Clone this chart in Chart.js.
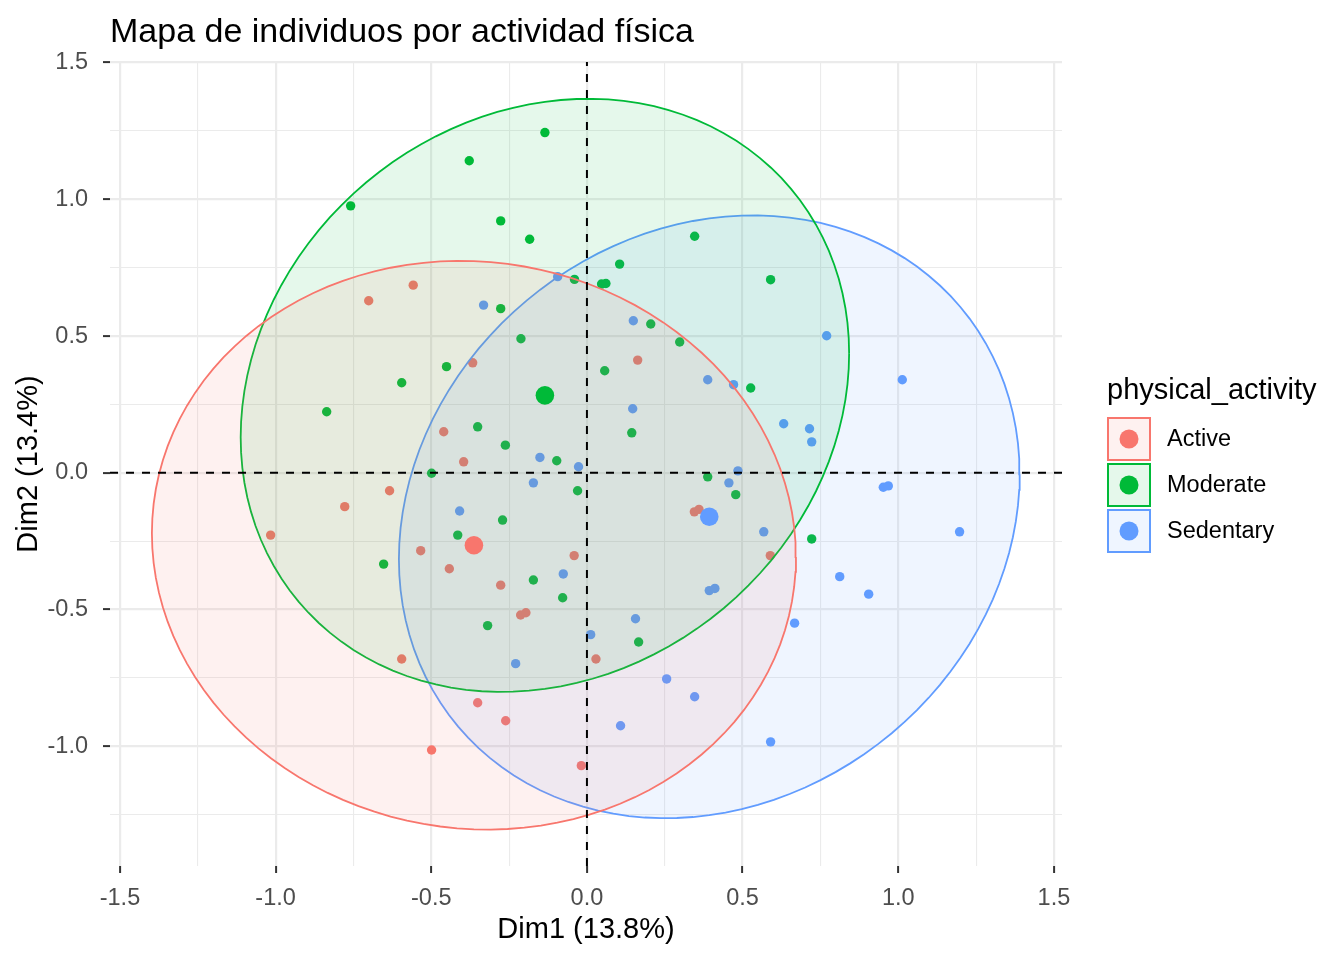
<!DOCTYPE html>
<html>
<head>
<meta charset="utf-8">
<title>Mapa de individuos por actividad física</title>
<script src="https://cdn.jsdelivr.net/npm/chart.js@4.4.1/dist/chart.umd.min.js"></script>
<style>
  html, body { margin: 0; padding: 0; background: #ffffff; }
  #wrap { width: 1344px; height: 960px; }
</style>
</head>
<body>
<div id="wrap"><canvas id="canvas" width="1344" height="960"></canvas></div>
<script>
// groups and colours
const groups = ['Active', 'Moderate', 'Sedentary'];
const groupColors = ['#F8766D', '#00BA38', '#619CFF'];

// individuals (Dim1, Dim2)
const activeX = [-0.558, -0.701, -0.367, -0.460, -0.396, 0.163, -0.634, -0.778, -1.016, -0.534, -0.442, -0.277,
  -0.041, -0.213, -0.196, -0.595, 0.029, -0.351, -0.261, -0.499, -0.018, 0.345, 0.360, 0.589];
const activeY = [0.686, 0.629, 0.402, 0.150, 0.040, 0.412, -0.066, -0.124, -0.228, -0.285, -0.351, -0.411,
  -0.303, -0.520, -0.512, -0.681, -0.681, -0.841, -0.907, -1.014, -1.071, -0.143, -0.134, -0.303];

const moderateX = [-0.135, -0.378, -0.759, -0.277, -0.184, -0.277, -0.040, 0.047, 0.061, -0.212, -0.451, -0.595,
  -0.836, -0.351, -0.262, -0.097, -0.499, 0.346, 0.105, 0.590, 0.205, 0.298, 0.057, 0.526,
  0.144, 0.388, -0.030, -0.271, -0.415, -0.653, -0.172, -0.078, -0.319, 0.478, 0.722, 0.166];
const moderateY = [1.244, 1.141, 0.976, 0.921, 0.854, 0.600, 0.707, 0.690, 0.692, 0.490, 0.388, 0.329,
  0.223, 0.168, 0.101, 0.044, -0.002, 0.865, 0.763, 0.706, 0.544, 0.478, 0.373, 0.310,
  0.146, -0.015, -0.066, -0.173, -0.228, -0.334, -0.392, -0.457, -0.559, -0.080, -0.242, -0.619];

const sedentaryX = [-0.094, -0.332, -0.151, -0.027, -0.172, 0.149, 0.770, 1.013, 0.388, 0.471, 0.147, 0.632,
  0.715, 0.722, 0.485, 0.456, 0.568, 0.952, 0.968, 1.197, 0.393, 0.411, 0.812, 0.905,
  0.156, 0.012, 0.667, 0.256, 0.346, 0.108, 0.590, -0.409, -0.076, -0.229];
const sedentaryY = [0.717, 0.613, 0.056, 0.022, -0.037, 0.556, 0.501, 0.340, 0.340, 0.322, 0.234, 0.179,
  0.161, 0.113, 0.007, -0.037, -0.216, -0.053, -0.048, -0.216, -0.431, -0.423, -0.380, -0.444,
  -0.534, -0.592, -0.550, -0.754, -0.819, -0.925, -0.984, -0.140, -0.370, -0.698];

// group means (big points) and the spread of each ellipse
const centroidX = [-0.363, -0.135, 0.393];
const centroidY = [-0.265, 0.283, -0.161];
const ellipseVarX = [1.070, 0.955, 0.994];
const ellipseVarY = [1.081, 1.176, 1.215];
const ellipseCovXY = [-0.045, 0.150, 0.155];

// axes
const xMin = -1.532, xMax = 1.526;
const yMin = -1.438, yMax = 1.502;
const xTickValues = [-1.5, -1.25, -1.0, -0.75, -0.5, -0.25, 0, 0.25, 0.5, 0.75, 1.0, 1.25, 1.5];
const yTickValues = [-1.25, -1.0, -0.75, -0.5, -0.25, 0, 0.25, 0.5, 0.75, 1.0, 1.25, 1.5];
const majorTicks = [-1.5, -1.0, -0.5, 0, 0.5, 1.0, 1.5];

const chartTitle = 'Mapa de individuos por actividad física';
const xTitle = 'Dim1 (13.8%)';
const yTitle = 'Dim2 (13.4%)';
const legendTitle = 'physical_activity';

const FONT = '"Liberation Sans", Arial, Helvetica, sans-serif';

function toPoints(xs, ys) {
  return xs.map(function(x, i) { return { x: x, y: ys[i] }; });
}

function rgba(hex, a) {
  const r = parseInt(hex.slice(1, 3), 16);
  const g = parseInt(hex.slice(3, 5), 16);
  const b = parseInt(hex.slice(5, 7), 16);
  return 'rgba(' + r + ',' + g + ',' + b + ',' + a + ')';
}

function isMajor(v) {
  return majorTicks.some(function(m) { return Math.abs(m - v) < 1e-6; });
}

// outline of a normal ellipse around a group mean
function ellipsePoints(i) {
  const a = Math.sqrt(ellipseVarX[i]);
  const b = ellipseCovXY[i] / a;
  const c = Math.sqrt(ellipseVarY[i] - b * b);
  const pts = [];
  const n = 120;
  for (let k = 0; k <= n; k++) {
    const t = 2 * Math.PI * k / n;
    pts.push({ x: centroidX[i] + a * Math.cos(t), y: centroidY[i] + b * Math.cos(t) + c * Math.sin(t) });
  }
  return pts;
}

const groupPoints = [toPoints(activeX, activeY), toPoints(moderateX, moderateY), toPoints(sedentaryX, sedentaryY)];

const datasets = [];

// dashed axes lines on top
datasets.push({
  type: 'line', label: 'h0', data: [{ x: xMin, y: 0 }, { x: xMax, y: 0 }],
  borderColor: '#000000', borderWidth: 2, borderDash: [8, 8], pointRadius: 0, fill: false, order: -1
});
datasets.push({
  type: 'line', label: 'v0', data: [{ x: 0, y: yMin }, { x: 0, y: yMax }],
  borderColor: '#000000', borderWidth: 2, borderDash: [8, 8], pointRadius: 0, fill: false, order: -1
});

groups.forEach(function(g, i) {
  // mean point
  datasets.push({
    type: 'scatter', label: g + ' mean', data: [{ x: centroidX[i], y: centroidY[i] }],
    backgroundColor: groupColors[i], borderWidth: 0, pointRadius: 9.3, order: 0
  });
  // ellipse
  datasets.push({
    type: 'line', label: g + ' ellipse', data: ellipsePoints(i),
    borderColor: groupColors[i], backgroundColor: rgba(groupColors[i], 0.1),
    borderWidth: 1.8, pointRadius: 0, tension: 0, fill: 'shape', order: 1
  });
  // individuals
  datasets.push({
    type: 'scatter', label: g, data: groupPoints[i],
    backgroundColor: groupColors[i], borderWidth: 0, pointRadius: 4.7, order: 2
  });
});

// title, axis titles and legend
const decorations = {
  id: 'decorations',
  afterDraw: function(chart) {
    const ctx = chart.ctx;
    const area = chart.chartArea;
    ctx.save();
    ctx.fillStyle = '#000000';

    ctx.font = '34px ' + FONT;
    ctx.textAlign = 'left';
    ctx.textBaseline = 'alphabetic';
    ctx.fillText(chartTitle, area.left, 42);

    ctx.font = '29px ' + FONT;
    ctx.textAlign = 'center';
    ctx.fillText(xTitle, (area.left + area.right) / 2, 938);

    ctx.save();
    ctx.translate(37, (area.top + area.bottom) / 2);
    ctx.rotate(-Math.PI / 2);
    ctx.fillText(yTitle, 0, 0);
    ctx.restore();

    // legend
    ctx.textAlign = 'left';
    ctx.fillText(legendTitle, 1107, 399);
    const keyTop = 418, keyStep = 46, keySize = 42;
    groups.forEach(function(g, i) {
      const top = keyTop + i * keyStep;
      ctx.fillStyle = rgba(groupColors[i], 0.1);
      ctx.fillRect(1108, top, keySize, keySize);
      ctx.strokeStyle = groupColors[i];
      ctx.lineWidth = 2;
      ctx.strokeRect(1108, top, keySize, keySize);
      ctx.fillStyle = groupColors[i];
      ctx.beginPath();
      ctx.arc(1129, top + keySize / 2, 9.5, 0, 2 * Math.PI);
      ctx.fill();
      ctx.fillStyle = '#000000';
      ctx.font = '23.5px ' + FONT;
      ctx.textBaseline = 'middle';
      ctx.fillText(g, 1167, top + keySize / 2 + 1);
      ctx.textBaseline = 'alphabetic';
    });
    ctx.restore();
  }
};

function tickLabel(value) {
  return isMajor(value) ? value.toFixed(1) : '';
}

const gridOptions = {
  color: '#EBEBEB',
  lineWidth: function(c) { return c.tick && isMajor(c.tick.value) ? 2.2 : 1.1; },
  tickColor: function(c) { return c.tick && isMajor(c.tick.value) ? '#333333' : 'rgba(0,0,0,0)'; },
  tickWidth: 2,
  tickLength: 7,
  drawTicks: true
};

const ctx = document.getElementById('canvas');

new Chart(ctx, {
  type: 'scatter',
  data: { datasets: datasets },
  options: {
    responsive: false,
    animation: false,
    events: [],
    layout: { padding: { top: 62, right: 282, bottom: 0, left: 0 } },
    plugins: {
      legend: { display: false },
      title: { display: false },
      tooltip: { enabled: false }
    },
    scales: {
      x: {
        type: 'linear',
        min: xMin,
        max: xMax,
        border: { display: false },
        grid: gridOptions,
        afterBuildTicks: function(scale) {
          scale.ticks = xTickValues.map(function(v) { return { value: v }; });
        },
        afterFit: function(scale) { scale.height = 94; },
        ticks: {
          autoSkip: false,
          maxRotation: 0,
          padding: 11,
          color: '#4D4D4D',
          font: { family: FONT, size: 23.5 },
          callback: tickLabel
        }
      },
      y: {
        type: 'linear',
        min: yMin,
        max: yMax,
        border: { display: false },
        grid: gridOptions,
        afterBuildTicks: function(scale) {
          scale.ticks = yTickValues.map(function(v) { return { value: v }; });
        },
        afterFit: function(scale) { scale.width = 110; },
        ticks: {
          autoSkip: false,
          padding: 15,
          color: '#4D4D4D',
          font: { family: FONT, size: 23.5 },
          callback: tickLabel
        }
      }
    }
  },
  plugins: [decorations]
});
</script>
</body>
</html>
